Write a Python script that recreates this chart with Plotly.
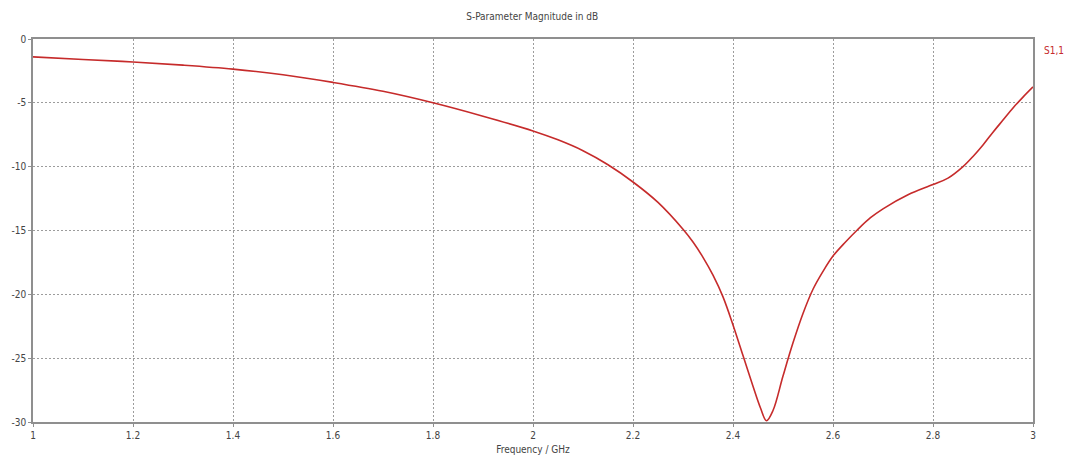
import plotly.graph_objects as go

# S11 magnitude of the antenna versus frequency
freq_ghz = [1.0, 1.1, 1.2, 1.3, 1.4, 1.5, 1.6, 1.7, 1.8, 1.9, 2.0, 2.05, 2.1, 2.15,
            2.2, 2.25, 2.3, 2.32, 2.34, 2.36, 2.38, 2.4, 2.42, 2.44, 2.455, 2.467,
            2.48, 2.5, 2.52, 2.54, 2.56, 2.58, 2.6, 2.625, 2.65, 2.675, 2.7, 2.75,
            2.8, 2.83, 2.86, 2.88, 2.9, 2.92, 2.94, 2.96, 2.98, 3.0]
s11_db = [-1.4, -1.6, -1.8, -2.05, -2.36, -2.8, -3.4, -4.1, -5.0, -6.05, -7.2, -7.9,
          -8.75, -9.85, -11.2, -12.8, -14.9, -15.9, -17.1, -18.5, -20.2, -22.4, -24.8,
          -27.2, -28.9, -29.9, -29.1, -26.4, -23.8, -21.5, -19.6, -18.2, -17.0, -15.9,
          -14.9, -14.0, -13.3, -12.2, -11.4, -10.9, -10.0, -9.2, -8.3, -7.3, -6.35,
          -5.4, -4.55, -3.75]

x_ticks = [1, 1.2, 1.4, 1.6, 1.8, 2, 2.2, 2.4, 2.6, 2.8, 3]
y_ticks = [0, -5, -10, -15, -20, -25, -30]

font_family = "DejaVu Sans Condensed, DejaVu Sans, sans-serif"
line_red = "#c62b2b"
axis_gray = "#8f8f8f"
grid_gray = "#9c9c9c"

fig = go.Figure()
fig.add_trace(go.Scatter(
    x=freq_ghz, y=s11_db, mode="lines",
    line=dict(color=line_red, width=1.6, shape="spline", smoothing=1.0),
    showlegend=False, hoverinfo="x+y",
))

fig.add_annotation(
    x=1.0, xref="paper", xanchor="left", xshift=9,
    y=0, yref="y", yanchor="top", yshift=-4,
    text="S1,1", showarrow=False,
    font=dict(family=font_family, size=10, color=line_red),
)

fig.update_layout(
    width=1073, height=466,
    margin=dict(l=31, r=40, t=39, b=42),
    paper_bgcolor="white", plot_bgcolor="white",
    font=dict(family=font_family, size=10, color="#444444"),
    title=dict(text="S-Parameter Magnitude in dB", x=0.496, xanchor="center",
               y=0.965, yanchor="middle",
               font=dict(family=font_family, size=10, color="#444444")),
    xaxis=dict(
        range=[1, 3], tickvals=x_ticks, ticktext=[str(v) for v in x_ticks],
        showgrid=True, gridcolor=grid_gray, griddash="2px,2px", gridwidth=1,
        showline=True, linecolor=axis_gray, linewidth=1.5, mirror=True,
        ticks="outside", ticklen=3, tickcolor=axis_gray,
        zeroline=False,
        title=dict(text="Frequency / GHz", standoff=6,
                   font=dict(family=font_family, size=10, color="#444444")),
    ),
    yaxis=dict(
        range=[-30, 0], tickvals=y_ticks, ticktext=[str(v) for v in y_ticks],
        showgrid=True, gridcolor=grid_gray, griddash="2px,2px", gridwidth=1,
        showline=True, linecolor=axis_gray, linewidth=1.5, mirror=True,
        ticks="outside", ticklen=3, tickcolor=axis_gray,
        zeroline=False,
    ),
)

fig.write_html("out.html")
